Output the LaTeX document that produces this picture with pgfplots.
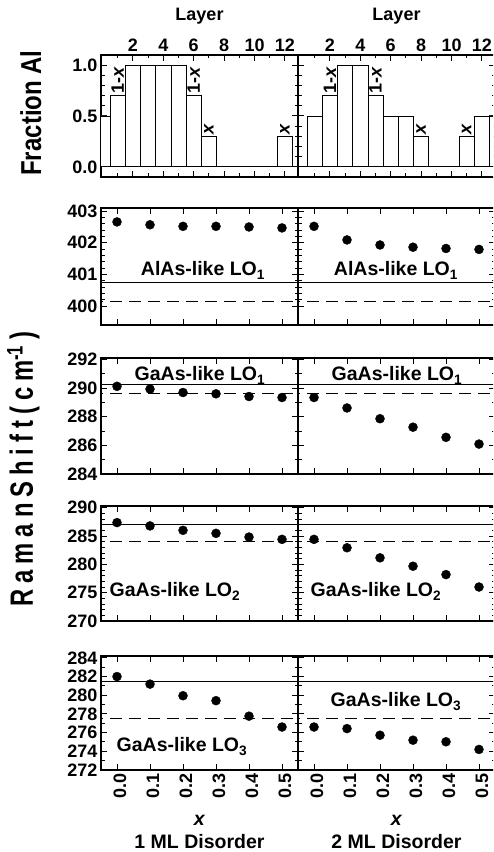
\documentclass[border=0pt]{standalone}
\usepackage{pgfplots}
\pgfplotsset{compat=1.18}
\usepackage{fontspec}
\setmainfont{Liberation Sans}
\usepackage{graphicx}

\newcommand{\tfont}{\fontsize{18}{18}\selectfont\bfseries}
\newcommand{\lfont}{\fontsize{19.5}{19.5}\selectfont\bfseries}
\newcommand{\lsp}{\hspace{7pt}}

\pgfplotsset{
  base/.style={
    scale only axis, width=197pt, anchor=south west,
    axis line style={line width=1.5pt},
    every tick/.style={line width=1pt, black},
    major tick length=6pt, minor tick length=3.5pt,
    tick align=inside,
    tick label style={font=\tfont},
    clip=true,
  },
  data/.style={base, xmin=-0.0485, xmax=0.5485,
    xtick={0,0.1,0.2,0.3,0.4,0.5}, xticklabels={}},
  lay/.style={base, xmin=-0.1, xmax=12.86, ymin=-0.1, ymax=1.1,
    xtick={2,4,6,8,10,12}, minor xtick={1,3,5,7,9,11,13},
    xticklabel pos=upper, xticklabels={2,4,6,8,10,12},
    ytick={0,0.5,1}, minor ytick={0.1,0.2,0.3,0.4,0.6,0.7,0.8,0.9},
    yticklabels={0.0,0.5,1.0}},
  solidl/.style={no marks, black, line width=0.9pt},
  dashl/.style={no marks, black, line width=0.9pt, dash pattern=on 12pt off 7pt},
  pts/.style={only marks, mark=*, mark size=4.5pt, black},
  bars/.style={ybar interval, fill=white, draw=black, line width=0.8pt},
}

\begin{document}
\begin{tikzpicture}
\path[use as bounding box] (0pt,0pt) rectangle (493pt,852pt);
\clip (0pt,0pt) rectangle (493pt,852pt);

% ---------------- Panel 1: Fraction Al ----------------
\begin{axis}[lay, at={(101pt,675pt)}, height=122pt]
\addplot[bars] coordinates {(-0.5,0.5) (0.5,0.7) (1.5,1) (2.5,1) (3.5,1) (4.5,1) (5.5,0.7) (6.5,0.3) (7.5,0) (8.5,0) (9.5,0) (10.5,0) (11.5,0.3) (12.5,0) (13.5,0)};
\node[rotate=90, anchor=west, inner sep=2pt, font=\tfont] at (axis cs:1,0.7) {1-\textit{x}};
\node[rotate=90, anchor=west, inner sep=2pt, font=\tfont] at (axis cs:6,0.7) {1-\textit{x}};
\node[rotate=90, anchor=west, inner sep=2pt, font=\tfont] at (axis cs:7,0.3) {\textit{x}};
\node[rotate=90, anchor=west, inner sep=2pt, font=\tfont] at (axis cs:12,0.3) {\textit{x}};
\end{axis}
\begin{axis}[lay, at={(298pt,675pt)}, height=122pt, yticklabels={}]
\addplot[bars] coordinates {(-0.5,0) (0.5,0.5) (1.5,0.7) (2.5,1) (3.5,1) (4.5,0.7) (5.5,0.5) (6.5,0.5) (7.5,0.3) (8.5,0) (9.5,0) (10.5,0.3) (11.5,0.5) (12.5,0.5) (13.5,0.5)};
\node[rotate=90, anchor=west, inner sep=2pt, font=\tfont] at (axis cs:2,0.7) {1-\textit{x}};
\node[rotate=90, anchor=west, inner sep=2pt, font=\tfont] at (axis cs:5,0.7) {1-\textit{x}};
\node[rotate=90, anchor=west, inner sep=2pt, font=\tfont] at (axis cs:8,0.3) {\textit{x}};
\node[rotate=90, anchor=west, inner sep=2pt, font=\tfont] at (axis cs:11,0.3) {\textit{x}};
\end{axis}

% ---------------- Panel 2: AlAs LO1 ----------------
\begin{axis}[data, at={(101pt,527pt)}, height=117pt, ymin=399.4, ymax=403.1,
  ytick={400,401,402,403}, minor y tick num=4, yticklabels={400,401,402,403}]
\addplot[solidl] coordinates {(-1,400.74) (1,400.74)};
\addplot[dashl] coordinates {(-1,400.13) (1,400.13)};
\addplot[pts] coordinates {(0,402.66) (0.1,402.57) (0.2,402.52) (0.3,402.52) (0.4,402.5) (0.5,402.47)};
\end{axis}
\begin{axis}[data, at={(298pt,527pt)}, height=117pt, ymin=399.4, ymax=403.1,
  ytick={400,401,402,403}, minor y tick num=4, yticklabels={}]
\addplot[solidl] coordinates {(-1,400.74) (1,400.74)};
\addplot[dashl] coordinates {(-1,400.13) (1,400.13)};
\addplot[pts] coordinates {(0,402.52) (0.1,402.09) (0.2,401.93) (0.3,401.86) (0.4,401.82) (0.5,401.79)};
\end{axis}

% ---------------- Panel 3: GaAs LO1 ----------------
\begin{axis}[data, at={(101pt,378pt)}, height=116pt, ymin=284, ymax=292.1,
  ytick={284,286,288,290,292}, minor y tick num=1, yticklabels={284,286,288,290,292}]
\addplot[solidl] coordinates {(-1,290.28) (1,290.28)};
\addplot[dashl] coordinates {(-1,289.6) (1,289.6)};
\addplot[pts] coordinates {(0,290.12) (0.1,289.93) (0.2,289.69) (0.3,289.6) (0.4,289.41) (0.5,289.34)};
\end{axis}
\begin{axis}[data, at={(298pt,378pt)}, height=116pt, ymin=284, ymax=292.1,
  ytick={284,286,288,290,292}, minor y tick num=1, yticklabels={}]
\addplot[solidl] coordinates {(-1,290.28) (1,290.28)};
\addplot[dashl] coordinates {(-1,289.6) (1,289.6)};
\addplot[pts] coordinates {(0,289.34) (0.1,288.61) (0.2,287.86) (0.3,287.27) (0.4,286.56) (0.5,286.09)};
\end{axis}

% ---------------- Panel 4: GaAs LO2 ----------------
\begin{axis}[data, at={(101pt,231pt)}, height=115pt, ymin=270, ymax=290.3,
  ytick={270,275,280,285,290}, minor y tick num=4, yticklabels={270,275,280,285,290}]
\addplot[solidl] coordinates {(-1,286.96) (1,286.96)};
\addplot[dashl] coordinates {(-1,283.99) (1,283.99)};
\addplot[pts] coordinates {(0,287.37) (0.1,286.78) (0.2,286.01) (0.3,285.47) (0.4,284.82) (0.5,284.41)};
\end{axis}
\begin{axis}[data, at={(298pt,231pt)}, height=115pt, ymin=270, ymax=290.3,
  ytick={270,275,280,285,290}, minor y tick num=4, yticklabels={}]
\addplot[solidl] coordinates {(-1,286.96) (1,286.96)};
\addplot[dashl] coordinates {(-1,283.99) (1,283.99)};
\addplot[pts] coordinates {(0,284.41) (0.1,282.93) (0.2,281.15) (0.3,279.67) (0.4,278.19) (0.5,276.0)};
\end{axis}

% ---------------- Panel 5: GaAs LO3 ----------------
\begin{axis}[data, at={(101pt,82pt)}, height=114pt, ymin=272, ymax=284.2,
  ytick={272,274,276,278,280,282,284}, minor y tick num=1,
  yticklabels={272,274,276,278,280,282,284},
  xticklabels={0.0,0.1,0.2,0.3,0.4,0.5},
  xticklabel style={rotate=90, anchor=east, yshift=-3pt}]
\addplot[solidl] coordinates {(-1,281.43) (1,281.43)};
\addplot[dashl] coordinates {(-1,277.48) (1,277.48)};
\addplot[pts] coordinates {(0,282.0) (0.1,281.19) (0.2,279.95) (0.3,279.42) (0.4,277.76) (0.5,276.6)};
\end{axis}
\begin{axis}[data, at={(298pt,82pt)}, height=114pt, ymin=272, ymax=284.2,
  ytick={272,274,276,278,280,282,284}, minor y tick num=1, yticklabels={},
  xticklabels={0.0,0.1,0.2,0.3,0.4,0.5},
  xticklabel style={rotate=90, anchor=east, yshift=-3pt}]
\addplot[solidl] coordinates {(-1,281.43) (1,281.43)};
\addplot[dashl] coordinates {(-1,277.48) (1,277.48)};
\addplot[pts] coordinates {(0,276.6) (0.1,276.43) (0.2,275.72) (0.3,275.19) (0.4,275.02) (0.5,274.2)};
\end{axis}

% ---------------- texts ----------------
\node[font=\tfont] at (199.5pt,836pt) {Layer};
\node[font=\tfont] at (396.5pt,836pt) {Layer};

\node[font=\lfont, anchor=base] at (203pt,576pt) {AlAs-like LO\textsubscript{1}};
\node[font=\lfont, anchor=base] at (396pt,576pt) {AlAs-like LO\textsubscript{1}};
\node[font=\lfont, anchor=base] at (200pt,471pt) {GaAs-like LO\textsubscript{1}};
\node[font=\lfont, anchor=base] at (397pt,471pt) {GaAs-like LO\textsubscript{1}};
\node[font=\lfont, anchor=base] at (175pt,255pt) {GaAs-like LO\textsubscript{2}};
\node[font=\lfont, anchor=base] at (376pt,255pt) {GaAs-like LO\textsubscript{2}};
\node[font=\lfont, anchor=base] at (182pt,100pt) {GaAs-like LO\textsubscript{3}};
\node[font=\lfont, anchor=base] at (396pt,145pt) {GaAs-like LO\textsubscript{3}};

\node[font=\lfont] at (199.5pt,32pt) {\textit{x}};
\node[font=\lfont] at (396.5pt,32pt) {\textit{x}};
\node[font=\lfont] at (199.5pt,10pt) {1 ML Disorder};
\node[font=\lfont] at (396.5pt,10pt) {2 ML Disorder};

\node[rotate=90, anchor=base, font=\fontsize{24}{24}\selectfont\bfseries] at (41pt,739pt) {\scalebox{1}[1.2]{Fraction Al}};
\node[rotate=90, anchor=base, font=\fontsize{28}{28}\selectfont\bfseries] at (33pt,383pt)
  {\scalebox{0.85}[1.15]{R\lsp a\lsp m\lsp a\lsp n\lsp S\lsp h\lsp i\lsp f\lsp t\lsp (\lsp c\lsp m\textsuperscript{-1}\lsp )}};
\end{tikzpicture}
\end{document}
